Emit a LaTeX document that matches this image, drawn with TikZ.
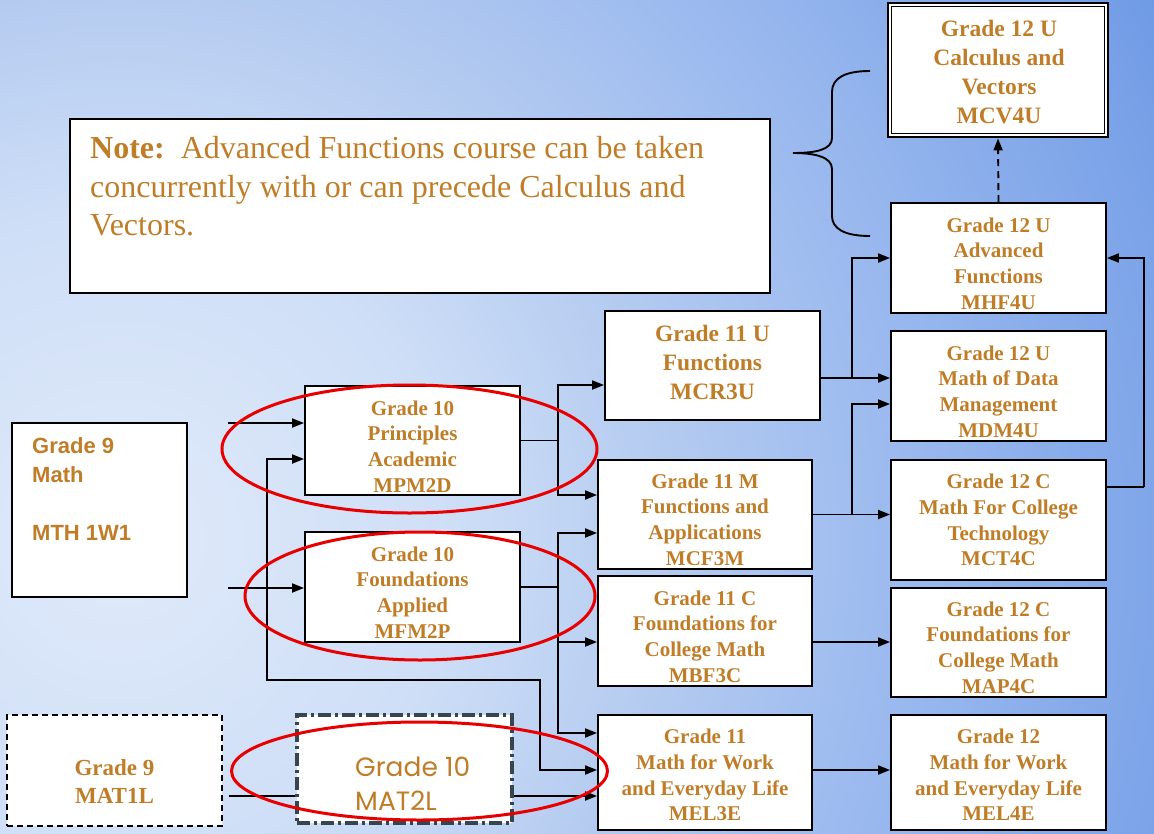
\documentclass[tikz,border=0pt]{standalone}
\usepackage{fontspec}
\setmainfont{Liberation Serif}
\newfontfamily\arialfont{Liberation Sans}
\newfontfamily\popfont{Poppins}
\usetikzlibrary{arrows.meta,calc}
\definecolor{txt}{RGB}{192,125,40}
\definecolor{redline}{RGB}{232,0,0}
\definecolor{dashgray}{RGB}{55,70,78}
\definecolor{bga}{HTML}{E0EAFA}
\definecolor{bgb}{HTML}{CFDFF7}
\definecolor{bgc}{HTML}{B4CBF0}
\definecolor{bgd}{HTML}{A3BFF0}
\definecolor{bge}{HTML}{7BA3E8}
\definecolor{bgf}{HTML}{6F9AE5}
\pgfdeclareradialshading{bgsh}{\pgfpoint{0bp}{0bp}}{color(0bp)=(bga); color(6.67bp)=(bgb); color(11.5bp)=(bgc); color(14.8bp)=(bgd); color(22.4bp)=(bge); color(24.3bp)=(bgf); color(50bp)=(bgf)}
\newcommand\crsfont{\bfseries\fontsize{21}{25.7}\selectfont}
\newcommand\crsbigfont{\bfseries\fontsize{23.5}{28.7}\selectfont}
\tikzset{
  box/.style={draw=black, fill=white, line width=1.9pt, inner sep=0pt},
  crs/.style={text=txt, align=center, font=\crsfont, inner sep=0pt},
  crsbig/.style={text=txt, align=center, font=\crsbigfont, inner sep=0pt},
  conn/.style={line width=1.9pt, draw=black},
  arr/.style={conn, -{Triangle[length=12pt,width=9pt]}},
  arrboth/.style={conn, {Triangle[length=12pt,width=9pt]}-{Triangle[length=12pt,width=9pt]}},
  oval/.style={draw=redline, line width=3pt},
}
\begin{document}
\begin{tikzpicture}[x=1pt,y=-1pt]
\useasboundingbox (0,0) rectangle (1154,833);
\begin{scope}
\clip (0,0) rectangle (1154,833);
\shade[shading=bgsh] (120,540) circle (1200);
\end{scope}

% note box
\node[box, line width=2.2pt, minimum width=700pt, minimum height=174pt] (note) at (420,206) {};
\node[text=txt, align=left, anchor=west, inner sep=0pt, font=\fontsize{32}{38.5}\selectfont] (notet) at (90,186.5)
  {\textbf{Note:}\ \ Advanced Functions course can be taken\\concurrently with or can precede Calculus and\\Vectors.};

% grade 12
\node[box, line width=2.8pt, minimum width=220pt, minimum height=134pt] (mcv) at (998,70) {};
\draw[line width=1.4pt] ($(mcv.north west)+(5,5)$) rectangle ($(mcv.south east)+(-5,-5)$);
\node[crsbig] (mcvt) at (999,72) {Grade 12 U\\Calculus and\\Vectors\\MCV4U};

\node[box, minimum width=215pt, minimum height=110pt] (mhf) at (998.5,258) {};
\node[crs] (mhft) at (998.5,263.5) {Grade 12 U\\Advanced\\Functions\\MHF4U};

\node[box, minimum width=215pt, minimum height=110pt] (mdm) at (998.5,386) {};
\node[crs] (mdmt) at (998.5,391.5) {Grade 12 U\\Math of Data\\Management\\MDM4U};

\node[box, minimum width=215pt, minimum height=120pt] (mct) at (998.5,520) {};
\node[crs] (mctt) at (998.5,520) {Grade 12 C\\Math For College\\Technology\\MCT4C};

\node[box, minimum width=215pt, minimum height=109pt] (map) at (998.5,642.5) {};
\node[crs] (mapt) at (998.5,647.5) {Grade 12 C\\Foundations for\\College Math\\MAP4C};

\node[box, minimum width=215pt, minimum height=115pt] (mel4) at (998.5,772.5) {};
\node[crs] (mel4t) at (998.5,775) {Grade 12\\Math for Work\\and Everyday Life\\MEL4E};

% grade 11
\node[box, minimum width=215pt, minimum height=109pt] (mcr) at (712.5,365.5) {};
\node[crsbig] (mcrt) at (712.5,362.5) {Grade 11 U\\Functions\\MCR3U};

\node[box, minimum width=214pt, minimum height=109pt] (mcf) at (705,514.5) {};
\node[crs] (mcft) at (705,519.5) {Grade 11 M\\Functions and\\Applications\\MCF3M};

\node[box, minimum width=214pt, minimum height=110pt] (mbf) at (705,631) {};
\node[crs] (mbft) at (705,636.5) {Grade 11 C\\Foundations for\\College Math\\MBF3C};

\node[box, minimum width=214pt, minimum height=115pt] (mel3) at (705,772.5) {};
\node[crs] (mel3t) at (705,775) {Grade 11\\Math for Work\\and Everyday Life\\MEL3E};

% grade 10
\node[box, minimum width=215pt, minimum height=109pt] (mpm) at (412.5,440.5) {};
\node[crs] (mpmt) at (412.5,446.5) {Grade 10\\Principles\\Academic\\MPM2D};

\node[box, minimum width=215pt, minimum height=110pt] (mfm) at (412.5,587) {};
\node[crs] (mfmt) at (412.5,592.5) {Grade 10\\Foundations\\Applied\\MFM2P};

\node[box, draw=dashgray, line width=3.4pt, dash pattern=on 13pt off 4pt on 3pt off 4pt, minimum width=215pt, minimum height=108pt] (mat2) at (404.5,769) {};
\node[text=txt, align=left, anchor=west, inner sep=0pt, font=\popfont\fontsize{26.5}{34}\selectfont] (mat2t) at (355,784) {Grade 10\\MAT2L};

% grade 9
\node[box, minimum width=175pt, minimum height=174pt] (mth) at (99.5,510) {};
\node[text=txt, align=left, anchor=west, inner sep=0pt, font=\arialfont\bfseries\fontsize{22}{29}\selectfont] (mtht) at (32,489.5) {Grade 9\\Math\\~\\MTH 1W1};

\node[box, dash pattern=on 6pt off 4pt, minimum width=215pt, minimum height=111pt] (mat1) at (114.5,770.5) {};
\node[crs, font=\bfseries\fontsize{23}{28}\selectfont] (mat1t) at (114.5,782) {Grade 9\\MAT1L};

% free ends
\coordinate (in1) at (228,423);
\coordinate (in2) at (228,588);
\coordinate (ja) at (558,440.5);
\coordinate (jb) at (558,587);
\coordinate (jc) at (852,378);
\coordinate (jd) at (852,514.5);
\coordinate (je) at (1144,487);

% connectors
\draw[arr] (in1) -- (in1 -| mpm.west);
\draw[arr] (in2) -- (in2 -| mfm.west);
\draw[arrboth] ($(mpm.west)+(0,18.5)$) -| (267,680) -| (540,770) -- ($(mel3.west)+(0,-2.5)$);

\draw[conn] (mpm.east) -- (ja);
\draw[arr] (ja) |- ($(mcr.west)+(0,19.5)$);
\draw[arr] (ja) |- ($(mcf.west)+(0,-19.5)$);

\draw[conn] (mfm.east) -- (jb);
\draw[arr] (jb) |- ($(mcf.west)+(0,18.5)$);
\draw[arr] (jb) |- ($(mbf.west)+(0,11)$);
\draw[arr] (jb) |- ($(mel3.west)+(0,-39.5)$);

\draw[conn] ($(mat1.east)+(6,25.5)$) -- ($(mat2.west)+(0,27)$);
\draw[arr] ($(mat2.east)+(0,27)$) -- ($(mel3.west)+(0,23.5)$);

\draw[conn] ($(mcr.east)+(0,12.5)$) -- (jc);
\draw[arr] (jc) -- ($(mdm.west)+(0,-8)$);
\draw[arr] (jc) |- (mhf.west);

\draw[conn] (mcf.east) -- (jd);
\draw[arr] (jd) -- ($(mct.west)+(0,-5.5)$);
\draw[arr] (jd) |- ($(mdm.west)+(0,18)$);

\draw[conn] ($(mct.east)+(0,-33)$) -- (je);
\draw[arr] (je) |- (mhf.east);

\draw[arr] ($(mbf.east)+(0,11)$) -- ($(map.west)+(0,-0.5)$);
\draw[arr] ($(mel3.east)+(0,-2.5)$) -- ($(mel4.west)+(0,-2.5)$);

\draw[arr, dash pattern=on 7pt off 5pt] (mhf.north) -- (mcv.south);

% brace
\draw[line width=1.9pt] (870,71) .. controls (845,71) and (832,78) .. (832,92)
  -- (832,138) .. controls (832,150) and (815,153) .. (793,153)
  .. controls (815,153) and (832,157) .. (832,169)
  -- (832,216) .. controls (832,229) and (845,236) .. (870,236);

% red ovals
\draw[oval] (409.5,449) ellipse [x radius=187.5, y radius=64];
\draw[oval] (420,596) ellipse [x radius=175, y radius=64];
\draw[oval] (419.5,771) ellipse [x radius=188, y radius=49];
\end{tikzpicture}
\end{document}
